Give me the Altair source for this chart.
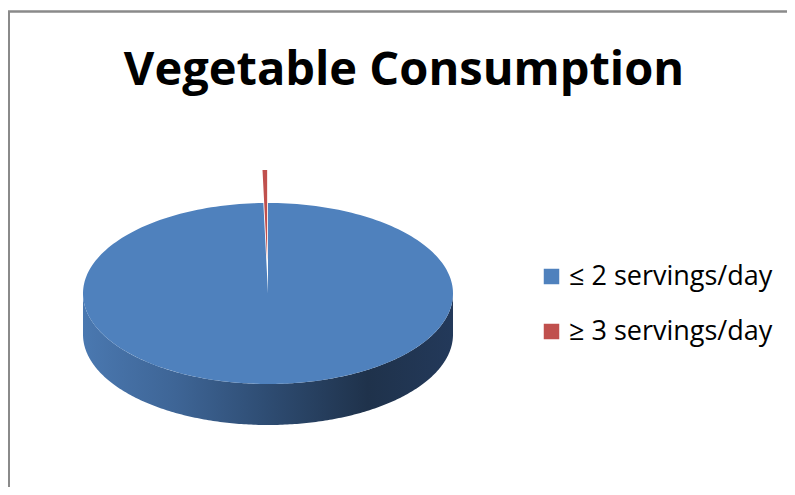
import altair as alt
import pandas as pd

# ---- data ----
categories = ["≤ 2 servings/day", "≥ 3 servings/day"]
shares = [99.6, 0.4]
colors = ["#4F81BD", "#C0504D"]
title_text = "Vegetable Consumption"

# ---- layout constants (chart pixel space) ----
W, H = 779, 479
CX, CY, RX, RY, DEPTH = 260, 285.5, 185, 90.5, 41
EXPLODE = 0.365          # exploded slice offset, fraction of radius
N = 240                   # points per arc
FONT = "Open Sans"

df = pd.DataFrame({"category": categories, "value": shares, "order": list(range(len(categories)))})

xs = alt.Scale(domain=[0, W], nice=False, zero=False)
ys = alt.Scale(domain=[0, H], nice=False, zero=False, reverse=True)
cscale = alt.Scale(domain=categories, range=colors)

base = (
    alt.Chart(df)
    .transform_joinaggregate(total="sum(value)")
    .transform_window(cum="sum(value)", sort=[alt.SortField("order")], frame=[None, 0])
    .transform_calculate(
        a0="2*PI*(datum.cum - datum.value)/datum.total",
        a1="2*PI*datum.cum/datum.total",
        steps=f"sequence(0, {N + 2})",
    )
    .transform_flatten(["steps"], as_=["k"])
)

# top faces (closed polygons: centre + arc)
top = (
    base.transform_calculate(
        mid="(datum.a0 + datum.a1)/2",
        ex=f"datum.category == '{categories[1]}' ? {EXPLODE} : 0",
        rim="datum.k > 0 ? 1 : 0",
        ang=f"datum.a0 + (datum.a1 - datum.a0)*max(datum.k - 1, 0)/{N}",
    )
    .transform_calculate(
        px=f"{CX} + datum.ex*{RX}*sin(datum.mid) + datum.rim*{RX}*sin(datum.ang)",
        py=f"{CY} - datum.ex*{RY}*cos(datum.mid) - datum.rim*{RY}*cos(datum.ang)",
    )
    .mark_line(filled=True, interpolate="linear-closed", strokeWidth=0)
    .encode(
        x=alt.X("px:Q", scale=xs, axis=None),
        y=alt.Y("py:Q", scale=ys, axis=None),
        color=alt.Color("category:N", scale=cscale, legend=None),
        order=alt.Order("k:Q"),
    )
)

# side wall (front half of the rim)
side = (
    base.transform_calculate(
        s0="max(datum.a0, PI/2)",
        s1="min(datum.a1, 3*PI/2)",
    )
    .transform_filter("datum.s1 > datum.s0 && datum.k > 0")
    .transform_calculate(ang=f"datum.s0 + (datum.s1 - datum.s0)*(datum.k - 1)/{N}")
    .transform_filter("datum.ang <= datum.s1 + 1e-9")
    .transform_calculate(
        px=f"{CX} + {RX}*sin(datum.ang)",
        py=f"{CY} - {RY}*cos(datum.ang)",
        py2=f"{CY} - {RY}*cos(datum.ang) + {DEPTH}",
    )
    .mark_area(
        color=alt.Gradient(
            gradient="linear",
            x1=0, x2=1, y1=0, y2=0,
            stops=[
                alt.GradientStop(color="#4A78B0", offset=0),
                alt.GradientStop(color="#3E6596", offset=0.25),
                alt.GradientStop(color="#2E4C72", offset=0.5),
                alt.GradientStop(color="#1F324B", offset=0.77),
                alt.GradientStop(color="#23395A", offset=1),
            ],
        )
    )
    .encode(
        x=alt.X("px:Q", scale=xs, axis=None),
        y=alt.Y("py:Q", scale=ys, axis=None),
        y2="py2:Q",
        detail="category:N",
    )
)

# title
title = (
    alt.Chart(pd.DataFrame({"t": [title_text]}))
    .mark_text(font=FONT, fontSize=47, fontWeight="bold", color="#000000", align="center", baseline="alphabetic")
    .encode(text="t:N", x=alt.value(396), y=alt.value(77))
)

# legend
leg = alt.Chart(df).transform_calculate(ly="268.5 + 55*datum.order")
leg_sym = leg.mark_square(size=240, opacity=1).encode(
    x=alt.value(543.5),
    y=alt.Y("ly:Q", scale=ys, axis=None),
    color=alt.Color("category:N", scale=cscale, legend=None),
)
leg_txt = leg.mark_text(font=FONT, fontSize=27, align="left", baseline="middle", color="#000000").encode(
    x=alt.value(561),
    y=alt.Y("ly:Q", scale=ys, axis=None),
    text="category:N",
)

frame = alt.Chart(df).mark_rect(fill=None, stroke="#8A8A8A", strokeWidth=2).encode(
    x=alt.value(1), x2=alt.value(W + 20), y=alt.value(3.5), y2=alt.value(H + 20)
)

chart = (
    alt.layer(frame, side, top, title, leg_sym, leg_txt)
    .properties(width=W, height=H, autosize=alt.AutoSizeParams(type="none"), padding=0)
    .configure_view(strokeWidth=0)
)

chart.save("out.html", embed_options={"renderer": "svg", "actions": False})
